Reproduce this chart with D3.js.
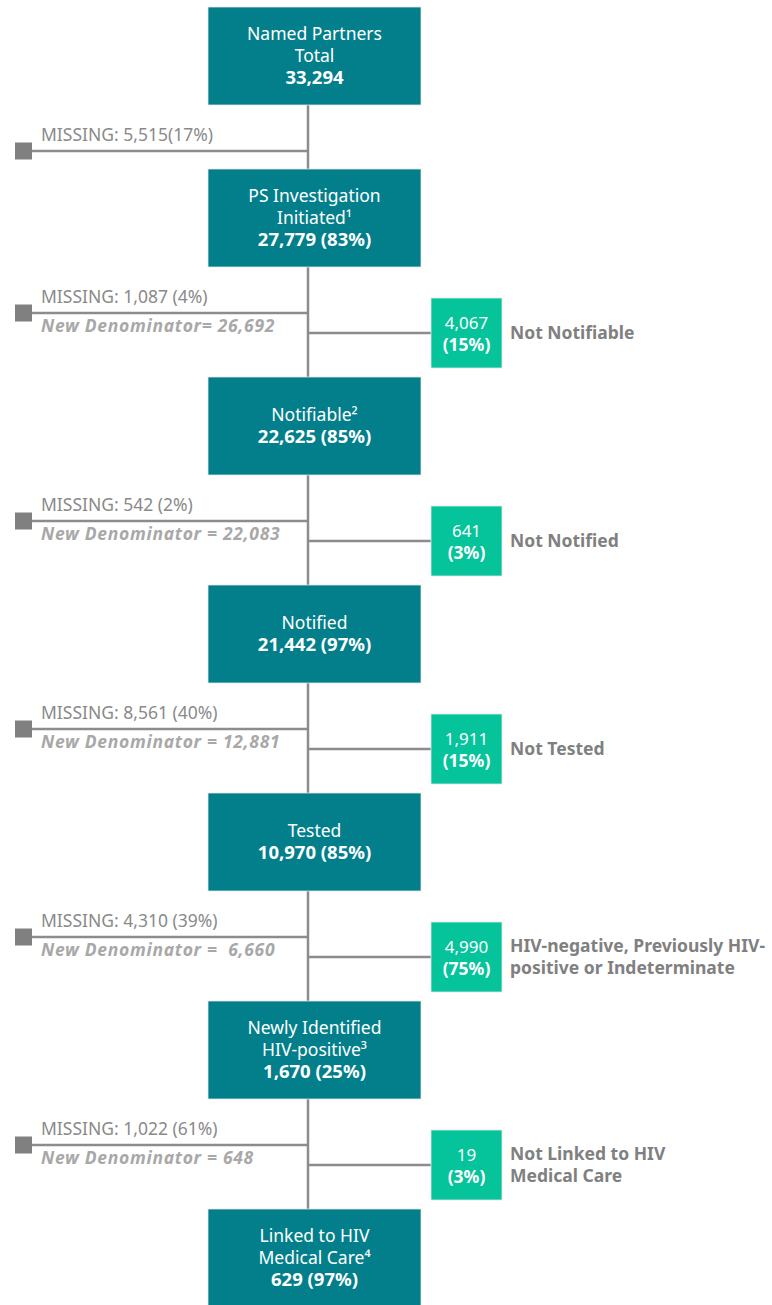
<!DOCTYPE html>
<html lang="en">
<head>
    <meta charset="UTF-8">
    <title>Partner Services Cascade</title>
    <style>
        body { margin: 0; background: #fff; }
        text { font-family: "Noto Sans", "Open Sans", sans-serif; }
        .link { stroke: #8c8c8c; stroke-width: 2.5px; fill: none; }
    </style>
</head>
<body>
<script src="https://d3js.org/d3.v7.min.js"></script>
<script>

    // main cascade steps
    const stepLabels = [
        ['Named Partners', 'Total'],
        ['PS Investigation', 'Initiated\u00b9'],
        ['Notifiable\u00b2'],
        ['Notified'],
        ['Tested'],
        ['Newly Identified', 'HIV-positive\u00b3'],
        ['Linked to HIV', 'Medical Care\u2074']
    ];
    const stepCounts = [33294, 27779, 22625, 21442, 10970, 1670, 629];
    const stepPcts = [null, 83, 85, 97, 85, 25, 97];

    // missing between steps
    const missingCounts = [5515, 1087, 542, 8561, 4310, 1022];
    const missingPcts = [17, 4, 2, 40, 39, 61];
    const denominators = [null, 26692, 22083, 12881, 6660, 648];

    // exits to the right (gap 1 has none)
    const exitCounts = [null, 4067, 641, 1911, 4990, 19];
    const exitPcts = [null, 15, 3, 15, 75, 3];
    const exitLabels = [
        null,
        ['Not Notifiable'],
        ['Not Notified'],
        ['Not Tested'],
        ['HIV-negative, Previously HIV-', 'positive or Indeterminate'],
        ['Not Linked to HIV', 'Medical Care']
    ];

    const width = 772;
    const height = 1305;
    const boxH = 98;
    const fmt = d3.format(',');

    // gap below each step: short when there is no exit branch
    const gaps = exitCounts.map(function (d) { return d === null ? 64 : 110; });
    const tops = [7];
    gaps.forEach(function (g, i) { tops.push(tops[i] + boxH + g); });

    const x = d3.scaleLinear().domain([0, 1]).range([208, 421]);
    const spineX = 308;

    const svg = d3.select('body').append('svg')
        .attr('width', width)
        .attr('height', height);

    // spine
    svg.append('line')
        .attr('class', 'link')
        .attr('x1', spineX).attr('x2', spineX)
        .attr('y1', tops[0] + boxH).attr('y2', tops[tops.length - 1]);

    // gaps, bound by index so filters keep the right position
    const gap = svg.selectAll('g.gap')
        .data(d3.range(missingCounts.length))
        .enter().append('g')
        .attr('class', 'gap')
        .attr('transform', function (i) { return 'translate(0,' + (tops[i] + boxH) + ')'; });

    gap.append('line')
        .attr('class', 'link')
        .attr('x1', 30).attr('x2', spineX)
        .attr('y1', 46).attr('y2', 46);

    gap.append('rect')
        .attr('x', 15).attr('y', 37.5)
        .attr('width', 17).attr('height', 17)
        .attr('fill', '#808080');

    gap.append('text')
        .attr('x', 41).attr('y', 30)
        .attr('dy', '0.35em')
        .attr('font-size', 17.5)
        .attr('fill', '#8a8a8a')
        .text(function (i) {
            return 'MISSING: ' + fmt(missingCounts[i]) + (i === 0 ? '' : ' ') + '(' + missingPcts[i] + '%)';
        });

    gap.filter(function (i) { return denominators[i] !== null; })
        .append('text')
        .attr('x', 41).attr('y', 59)
        .attr('dy', '0.35em')
        .attr('font-size', 17.5)
        .attr('font-weight', 'bold')
        .attr('font-style', 'italic')
        .attr('letter-spacing', 0.7)
        .attr('fill', '#a8a8a8')
        .style('white-space', 'pre')
        .text(function (i) {
            const sep = i === 1 ? '= ' : (i === 4 ? ' =  ' : ' = ');
            return 'New Denominator' + sep + fmt(denominators[i]);
        });

    // exit branches
    const exit = gap.filter(function (i) { return exitCounts[i] !== null; });

    exit.append('line')
        .attr('class', 'link')
        .attr('x1', spineX).attr('x2', 431)
        .attr('y1', 66).attr('y2', 66);

    exit.append('rect')
        .attr('x', 431).attr('y', 31)
        .attr('width', 71).attr('height', 70)
        .attr('fill', '#05c39a')
        .attr('stroke', '#e6e6e6').attr('stroke-width', 0.8);

    exit.append('text')
        .attr('x', 466.5).attr('y', 56)
        .attr('dy', '0.35em')
        .attr('text-anchor', 'middle')
        .attr('font-size', 17)
        .attr('fill', '#fff')
        .text(function (i) { return fmt(exitCounts[i]); });

    exit.append('text')
        .attr('x', 466.5).attr('y', 78)
        .attr('dy', '0.35em')
        .attr('text-anchor', 'middle')
        .attr('font-size', 17.5)
        .attr('font-weight', 'bold')
        .attr('fill', '#fff')
        .text(function (i) { return '(' + exitPcts[i] + '%)'; });

    exit.append('text')
        .attr('font-size', 17.5)
        .attr('font-weight', 'bold')
        .attr('fill', '#808080')
        .selectAll('tspan')
        .data(function (i) {
            const lines = exitLabels[i];
            return lines.map(function (t, j) { return {t: t, y: 66 + (j - (lines.length - 1) / 2) * 22}; });
        })
        .enter().append('tspan')
        .attr('x', 510)
        .attr('y', function (d) { return d.y; })
        .attr('dy', '0.35em')
        .text(function (d) { return d.t; });

    // main boxes
    const step = svg.selectAll('g.step')
        .data(d3.range(stepCounts.length))
        .enter().append('g')
        .attr('class', 'step')
        .attr('transform', function (i) { return 'translate(0,' + tops[i] + ')'; });

    step.append('rect')
        .attr('x', x(0)).attr('y', 0)
        .attr('width', x(1) - x(0)).attr('height', boxH)
        .attr('fill', '#037f8c')
        .attr('stroke', '#e6e6e6').attr('stroke-width', 0.8);

    step.append('text')
        .attr('text-anchor', 'middle')
        .attr('fill', '#fff')
        .selectAll('tspan')
        .data(function (i) {
            const lines = stepLabels[i].map(function (t) { return {t: t, bold: false}; });
            lines.push({t: fmt(stepCounts[i]) + (stepPcts[i] === null ? '' : ' (' + stepPcts[i] + '%)'), bold: true});
            return lines.map(function (l, j) {
                l.y = boxH / 2 + (j - (lines.length - 1) / 2) * 22;
                return l;
            });
        })
        .enter().append('tspan')
        .attr('x', (x(0) + x(1)) / 2)
        .attr('y', function (d) { return d.y; })
        .attr('dy', '0.35em')
        .attr('font-size', function (d) { return d.bold ? 18.5 : 17.5; })
        .attr('font-weight', function (d) { return d.bold ? 'bold' : 'normal'; })
        .text(function (d) { return d.t; });

</script>
</body>
</html>
